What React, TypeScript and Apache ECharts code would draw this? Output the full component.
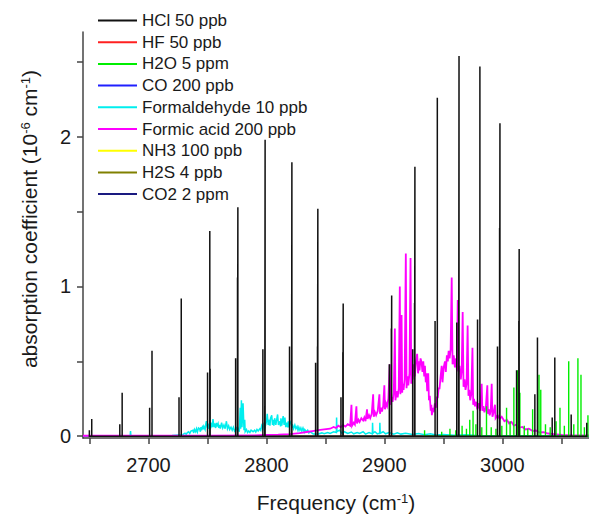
import React, { useEffect, useRef } from "react";
import * as echarts from "echarts";

// ---- axis values ----
const xMin = 2644.5;
const xMax = 3073.5;
const yMin = -0.012;
const yMax = 2.7;
const xTickValues = [2650, 2700, 2750, 2800, 2850, 2900, 2950, 3000, 3050];
const xLabelValues = [2700, 2800, 2900, 3000];
const yTickValues = [0, 0.5, 1, 1.5, 2, 2.5];
const yLabelValues = [0, 1, 2];

// ---- series names & colours ----
const seriesNames = [
  "HCl 50 ppb",
  "HF 50 ppb",
  "H2O 5 ppm",
  "CO 200 ppb",
  "Formaldehyde 10 ppb",
  "Formic acid 200 ppb",
  "NH3 100 ppb",
  "H2S 4 ppb",
  "CO2 2 ppm",
];
const seriesColors = [
  "#111111",
  "#ff2020",
  "#00ee00",
  "#2020ff",
  "#00eeee",
  "#ff00ff",
  "#ffff00",
  "#808000",
  "#1a1a80",
];

// ---- HCl line positions (cm-1) and peak heights ----
const hclLines: [number, number][] = [
  [2649.9, 0.04], [2651.9, 0.115],
  [2675.7, 0.08], [2677.7, 0.29],
  [2701.0, 0.19], [2703.0, 0.57],
  [2725.9, 0.26], [2727.8, 0.92],
  [2750.1, 0.425], [2752.0, 1.37], [2752.3, 0.45],
  [2773.9, 0.52], [2775.5, 1.06], [2775.8, 1.53],
  [2797.0, 0.58], [2798.6, 0.2], [2798.9, 1.98],
  [2819.6, 0.6], [2821.3, 0.5], [2821.6, 1.83],
  [2841.7, 0.49], [2843.3, 0.6], [2843.6, 1.52],
  [2863.2, 0.26], [2864.8, 0.56], [2865.1, 0.886],
  [2904.2, 0.48], [2905.9, 0.72], [2906.2, 0.94],
  [2924.0, 0.58], [2925.6, 0.89], [2925.9, 1.8],
  [2943.0, 0.77], [2944.9, 2.26],
  [2961.4, 0.76], [2963.0, 0.91], [2963.3, 2.54],
  [2979.0, 0.78], [2981.0, 2.47],
  [2995.9, 0.6], [2997.7, 1.39], [2998.0, 2.09],
  [3012.1, 0.44], [3014.0, 0.77], [3014.3, 1.25],
  [3027.6, 0.28], [3029.8, 0.66],
  [3042.3, 0.125], [3044.5, 0.525],
  [3058.4, 0.145],
  [3071.6, 0.09],
];

// ---- H2O line positions and heights ----
const h2oLines: [number, number][] = [
  [2934.1, 0.04], [2948.6, 0.03], [2955.6, 0.05], [2960.6, 0.04],
  [2965.9, 0.07], [2969.6, 0.05], [2972.4, 0.11], [2975.2, 0.17],
  [2977.6, 0.08], [2982.6, 0.06], [2986.6, 0.2], [2990.6, 0.06],
  [2994.6, 0.05], [2999.6, 0.07], [3003.6, 0.19], [3006.6, 0.1],
  [3009.8, 0.325], [3012.9, 0.44], [3014.9, 0.29], [3018.6, 0.07],
  [3021.6, 0.05], [3025.7, 0.18], [3031.1, 0.41], [3032.6, 0.31],
  [3036.6, 0.08], [3040.6, 0.06], [3045.6, 0.1], [3048.9, 0.19],
  [3052.6, 0.07], [3056.3, 0.5], [3060.6, 0.08], [3064.1, 0.52],
  [3066.7, 0.41], [3069.6, 0.06], [3072.6, 0.14],
];

// ---- Formaldehyde spectrum (x, y) ----
const formaldehyde: [number, number][] = [
  [2644.5, 0.002], [2680, 0.003], [2684.5, 0.003], [2684.8, 0.035], [2685.1, 0.003],
  [2720, 0.004], [2729, 0.01], [2730, 0.016], [2731, 0.02], [2732, 0.012], [2733, 0.024],
  [2734, 0.03], [2735, 0.018], [2736, 0.034], [2737.7, 0.04], [2738.4, 0.022], [2739, 0.045],
  [2740, 0.03], [2740.7, 0.05], [2741.5, 0.028], [2742.4, 0.055], [2743.4, 0.05],
  [2744, 0.03], [2744.5, 0.06], [2745, 0.04], [2746, 0.07], [2746.5, 0.045], [2747, 0.065],
  [2748, 0.045], [2748.6, 0.08], [2749.1, 0.1], [2750, 0.055], [2750.6, 0.085], [2751, 0.05],
  [2752, 0.075], [2752.6, 0.05], [2753, 0.09], [2754, 0.06], [2754.7, 0.115], [2755.5, 0.06],
  [2756, 0.085], [2757, 0.055], [2757.6, 0.09], [2758, 0.065], [2759, 0.085], [2759.6, 0.055],
  [2760.4, 0.075], [2761, 0.05], [2762, 0.09], [2763, 0.055], [2764, 0.075], [2765, 0.05],
  [2766.1, 0.1], [2767, 0.05], [2768, 0.07], [2768.9, 0.045], [2770, 0.06], [2771, 0.04],
  [2772, 0.06], [2773, 0.035], [2774.6, 0.055], [2775.4, 0.035], [2776, 0.05], [2777, 0.03],
  [2777.8, 0.19], [2778.2, 0.05], [2778.8, 0.24], [2779.3, 0.06], [2780.2, 0.22], [2781, 0.04],
  [2781.6, 0.11], [2782, 0.03], [2783.1, 0.045], [2784, 0.025], [2785, 0.035], [2786, 0.025],
  [2787, 0.04], [2788.7, 0.03], [2790, 0.04], [2791, 0.028], [2792, 0.045], [2793, 0.035],
  [2794.4, 0.05], [2795.2, 0.04], [2796, 0.07], [2797, 0.05], [2798, 0.09], [2799, 0.065],
  [2800.1, 0.1], [2800.7, 0.15], [2801.5, 0.075], [2802.5, 0.11], [2803, 0.07], [2803.5, 0.12],
  [2804.5, 0.14], [2805.2, 0.075], [2805.7, 0.11], [2806.3, 0.07], [2807, 0.12], [2808, 0.075],
  [2808.7, 0.11], [2809.5, 0.145], [2810.2, 0.075], [2811.4, 0.1], [2812, 0.065], [2812.3, 0.12],
  [2813, 0.07], [2814.2, 0.135], [2815, 0.075], [2815.7, 0.125], [2816.4, 0.06], [2817, 0.09],
  [2818, 0.06], [2818.5, 0.1], [2819.2, 0.06], [2819.9, 0.085], [2821, 0.1], [2821.6, 0.055],
  [2822, 0.08], [2823, 0.05], [2824.1, 0.075], [2825, 0.05], [2826, 0.065], [2826.8, 0.04],
  [2827.5, 0.06], [2828.4, 0.04], [2829.2, 0.055], [2830, 0.035], [2831, 0.055], [2832, 0.03],
  [2832.5, 0.045], [2834.1, 0.03], [2835, 0.04], [2836, 0.022], [2837, 0.03], [2839.7, 0.015],
  [2844, 0.015], [2847, 0.022], [2849, 0.016], [2852, 0.025], [2854, 0.018], [2857, 0.03],
  [2859.3, 0.025], [2859.5, 0.125], [2859.8, 0.03], [2862, 0.04], [2864, 0.02], [2866, 0.03],
  [2869, 0.018], [2872, 0.028], [2874, 0.016], [2877, 0.025], [2879, 0.018], [2882, 0.03],
  [2884, 0.014], [2887, 0.025], [2889.8, 0.015], [2890, 0.09], [2890.3, 0.02], [2892, 0.03],
  [2894, 0.016], [2896, 0.02], [2896.2, 0.09], [2896.5, 0.02], [2899, 0.03], [2901, 0.016],
  [2904, 0.025], [2908, 0.014], [2911, 0.022], [2914, 0.014], [2918, 0.02], [2924, 0.012],
  [2929, 0.018], [2934, 0.01], [2939, 0.016], [2944, 0.008], [2950, 0.012], [2959, 0.007],
  [2969, 0.01], [2979, 0.005], [2999, 0.003], [3073.5, 0.002],
];

// ---- Formic acid spectrum (x, y) ----
const formicAcid: [number, number][] = [
  [2644.5, 0.003], [2700, 0.003], [2750, 0.004], [2790, 0.006], [2800, 0.008],
  [2810, 0.01], [2820, 0.014], [2828, 0.02], [2834, 0.028], [2839, 0.034],
  [2844, 0.04], [2849, 0.045], [2854, 0.05], [2857, 0.062], [2859, 0.055],
  [2861, 0.07], [2863, 0.06], [2865, 0.075], [2867, 0.064], [2869, 0.08],
  [2871, 0.07], [2872.1, 0.21], [2872.6, 0.07], [2874, 0.09], [2875, 0.078],
  [2876.3, 0.2], [2876.8, 0.085], [2878, 0.11], [2879, 0.095], [2880.5, 0.12],
  [2882, 0.105], [2883, 0.125], [2884, 0.1], [2885.3, 0.18], [2885.8, 0.115],
  [2887, 0.14], [2888, 0.12], [2889.3, 0.15], [2890.5, 0.28], [2891, 0.13],
  [2892, 0.16], [2893, 0.14], [2894.4, 0.17], [2895.8, 0.28], [2896.3, 0.15],
  [2897.2, 0.19], [2898, 0.165], [2899, 0.2], [2900, 0.34], [2900.5, 0.18],
  [2901.4, 0.22], [2902.3, 0.2], [2903.4, 0.25], [2904.6, 0.48], [2905.1, 0.21],
  [2906, 0.26], [2907, 0.23], [2908, 0.29], [2908.9, 0.72], [2909.4, 0.24],
  [2910.3, 0.3], [2911.3, 0.26], [2912.2, 0.32], [2913.1, 1.0], [2913.6, 0.28],
  [2914.6, 0.81], [2915.1, 0.29], [2915.7, 0.35], [2916.3, 0.31], [2917.2, 0.38],
  [2918.2, 1.22], [2918.8, 0.32], [2919.5, 0.4], [2920.3, 0.34], [2921.3, 0.42],
  [2922.2, 1.19], [2922.8, 0.35], [2923.4, 0.45], [2924, 0.38], [2925, 0.48],
  [2925.8, 0.4], [2926.8, 0.5], [2927.8, 0.55], [2928.6, 0.42], [2929.2, 0.5],
  [2929.8, 0.44], [2930.7, 0.52], [2931.6, 0.49], [2932.3, 0.43], [2933, 0.5],
  [2933.8, 0.4], [2934.4, 0.47], [2935.1, 0.36], [2935.7, 0.42], [2936.3, 0.3],
  [2937.2, 0.42], [2937.8, 0.24], [2938.5, 0.27], [2939.3, 0.17], [2939.8, 0.21],
  [2940.3, 0.14], [2941, 0.19], [2941.8, 0.16], [2942.8, 0.22], [2943.8, 0.19],
  [2944.5, 0.26], [2945.3, 0.26], [2946, 0.32], [2946.8, 0.32], [2947.7, 0.4],
  [2948.6, 0.47], [2949.3, 0.36], [2950.3, 0.46], [2951.4, 0.5], [2952.1, 0.43],
  [2953, 0.54], [2953.8, 0.5], [2954.5, 0.57], [2955.3, 0.52], [2956.2, 0.58],
  [2957.1, 1.06], [2957.8, 0.48], [2958.8, 0.54], [2959.8, 0.46], [2960.8, 0.52],
  [2961.5, 0.44], [2962.2, 0.91], [2962.8, 0.43], [2963.8, 0.47], [2964.8, 0.38],
  [2965.6, 0.44], [2966.4, 0.83], [2967.1, 0.33], [2968, 0.38], [2968.8, 0.31],
  [2969.7, 0.35], [2970.6, 0.74], [2971.3, 0.27], [2972, 0.31], [2972.8, 0.24],
  [2973.7, 0.28], [2974.7, 0.59], [2975.3, 0.21], [2976, 0.25], [2976.8, 0.2],
  [2977.8, 0.23], [2978.8, 0.18], [2980, 0.22], [2981.2, 0.17], [2982.5, 0.35],
  [2983.1, 0.17], [2984, 0.2], [2984.8, 0.16], [2986, 0.19], [2987.3, 0.34],
  [2987.8, 0.15], [2988.5, 0.18], [2989.3, 0.14], [2990.2, 0.17], [2991, 0.35],
  [2991.6, 0.13], [2992.7, 0.16], [2993.8, 0.21], [2994.3, 0.12], [2996, 0.14],
  [2997.8, 0.115], [2999.5, 0.13], [3001.8, 0.1], [3003.8, 0.11], [3005.8, 0.085],
  [3007.8, 0.095], [3009.8, 0.07], [3012, 0.078], [3014.8, 0.058], [3017, 0.062],
  [3019.8, 0.045], [3022.5, 0.05], [3025.8, 0.035], [3028.5, 0.038], [3031.8, 0.025],
  [3035, 0.027], [3038.8, 0.018], [3043.8, 0.014], [3050.8, 0.009], [3058.8, 0.006],
  [3073.5, 0.005],
];

// ---- species with no absorption in this window ----
const hfValues: [number, number][] = [[2644.5, 0], [3073.5, 0]];
const coValues: [number, number][] = [[2644.5, 0], [3073.5, 0]];
const nh3Values: [number, number][] = [[2644.5, 0], [3073.5, 0]];
const h2sValues: [number, number][] = [[2644.5, 0], [3073.5, 0]];
const co2Values: [number, number][] = [[2644.5, 0], [3073.5, 0]];

function sticks(lines: [number, number][]): [number, number][] {
  const out: [number, number][] = [];
  for (const [x, h] of lines) {
    out.push([x, 0], [x, h], [x, 0]);
  }
  return out;
}

const FONT = "'Liberation Sans', Arial, sans-serif";
const TEXT = "#1a1a1a";

export default function App() {
  const ref = useRef<HTMLDivElement>(null);

  useEffect(() => {
    document.body.style.margin = "0";
    if (!ref.current) return;
    const chart = echarts.init(ref.current, undefined, { renderer: "svg" });

    const dataSets: [number, number][][] = [
      sticks(hclLines),
      hfValues,
      sticks(h2oLines),
      coValues,
      formaldehyde,
      formicAcid,
      nh3Values,
      h2sValues,
      co2Values,
    ];
    const zs = [6, 1, 5, 1, 3, 4, 1, 1, 2];
    const widths = [1.5, 1, 1.4, 1, 1.5, 1.8, 1, 1, 1];

    const series = seriesNames.map((name, i) => ({
      name,
      type: "line",
      data: dataSets[i],
      showSymbol: false,
      symbol: "none",
      z: zs[i],
      silent: true,
      lineStyle: { color: seriesColors[i], width: widths[i], join: "miter" },
      itemStyle: { color: seriesColors[i] },
    }));

    const axisLineStyle = { color: "#444", width: 1.5 };

    chart.setOption({
      animation: false,
      backgroundColor: "#ffffff",
      textStyle: { fontFamily: FONT },
      grid: { left: 83, right: 0, top: 32, bottom: 78, containLabel: false },
      legend: {
        data: seriesNames,
        orient: "vertical",
        left: 98,
        top: 12,
        padding: 0,
        itemGap: 4.7,
        itemWidth: 39,
        itemHeight: 2,
        icon: "rect",
        selectedMode: false,
        textStyle: { fontSize: 17, lineHeight: 17, color: TEXT, fontFamily: FONT },
      },
      xAxis: {
        type: "value",
        min: xMin,
        max: xMax,
        name: "Frequency (cm{sup|-1})",
        nameLocation: "middle",
        nameGap: 54,
        nameTextStyle: {
          fontSize: 21,
          color: TEXT,
          fontFamily: FONT,
          rich: { sup: { fontSize: 13, verticalAlign: "top", color: TEXT, fontFamily: FONT } },
        },
        axisLine: { show: true, onZero: false, lineStyle: axisLineStyle },
        axisTick: {
          show: true,
          inside: false,
          length: 6,
          customValues: xTickValues,
          lineStyle: axisLineStyle,
        },
        axisLabel: {
          customValues: xLabelValues,
          formatter: (v: number) => String(v),
          fontSize: 20,
          color: TEXT,
          margin: 17,
          fontFamily: FONT,
        },
        splitLine: { show: false },
      },
      yAxis: {
        type: "value",
        min: yMin,
        max: yMax,
        axisLine: { show: true, onZero: false, lineStyle: axisLineStyle },
        axisTick: {
          show: true,
          inside: false,
          length: 6,
          customValues: yTickValues,
          lineStyle: axisLineStyle,
        },
        axisLabel: {
          customValues: yLabelValues,
          formatter: (v: number) => String(v),
          fontSize: 20,
          color: TEXT,
          margin: 12,
          fontFamily: FONT,
        },
        splitLine: { show: false },
      },
      graphic: [
        {
          type: "text",
          x: 29,
          y: 219,
          rotation: Math.PI / 2,
          style: {
            text: "absorption coefficient (10{sup|-6} cm{sup|-1})",
            fontSize: 21,
            fontFamily: FONT,
            fill: TEXT,
            align: "center",
            verticalAlign: "middle",
            rich: {
              sup: { fontSize: 13, verticalAlign: "top", fill: TEXT, fontFamily: FONT },
            },
          },
        },
      ],
      series,
    });

    return () => chart.dispose();
  }, []);

  return <div ref={ref} style={{ width: 589, height: 518 }} />;
}
